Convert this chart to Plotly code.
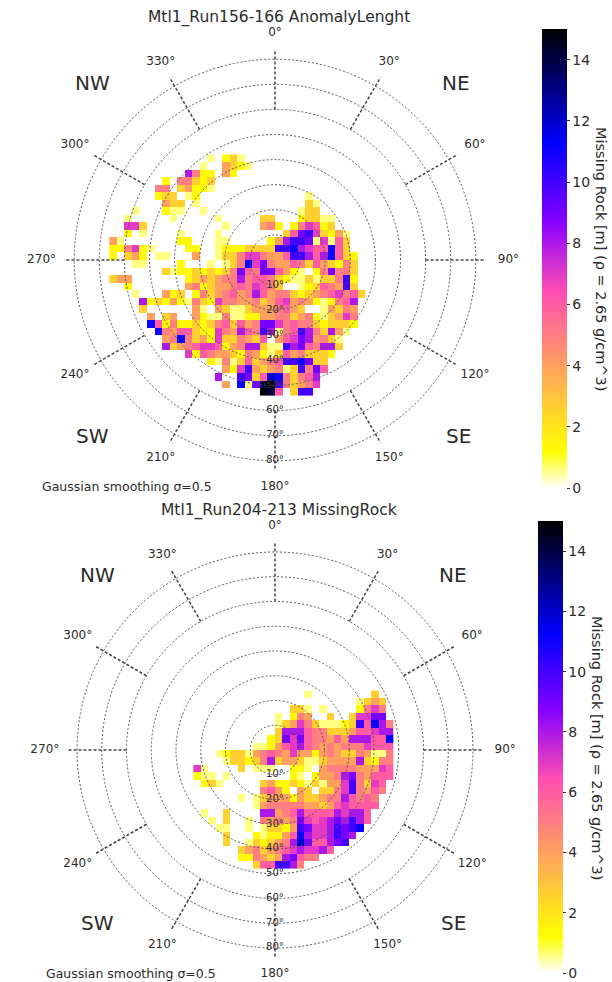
import numpy as np
import plotly.graph_objects as go

W, H = 612, 982
GRID_STEP = 3.0

# Cell values: '.' = empty, hexadecimal digit = metres of missing rock (1-3 refined in PALE)
top_rows = [
".............1.231",
"............1..4321",
"..........8522.42",
".......2.55323",
"......55.34221",
"......233.12..............1",
".......433.1..............31",
"...1...211..1............133",
"..1.....1.....1.....33...23311",
"..773..........1....452.257623",
"..2.1....1....1........369a73241",
"41.......22...11.....248aa917163",
"225721....22..12223333aab8766b63",
"2.342.11...4..1335775446aa868b632",
"...11....2...1.135b79544653643253",
".......31223232" + "35965" + "996421.2" + "59553",
"344.......234345" + "58566" + "53211" + "3133" + "5a2",
"..2.......45234" + "45657" + "653.." + "123654a3",
"...1...423.25345645864553234567563",
"....8232421" + "5327554453" + "467454212568",
"....3......" + "41.431134445643" + "..14354",
".....4.34.." + "421151122" + "4455345213475",
".....b62522323" + "5636459975" + "655323332",
"......b5466322" + "754865a815" + "6a853841",
".......45b53427" + "33543" + "6.467984531",
".......8345677" + "62458" + "8311a8965883",
"..........726544" + "32542" + "136453332",
".............215" + "13634" + "56aab933",
"...............427a43" + "4513a596",
"..............8..a93" + "6cb53568",
"...............4.b19" + "efa53457",
"....................fe6.3aa",
]
bottom_rows = [
"...............1........3",
"......................1343",
".............331.1....2575",
"...........1.254..3..37799",
"..........." + "1347531112" + "3a6b85",
"..........." + "3888655333" + "466788",
".........." + "23979655464" + "88866b",
"........" + "112467865454555" + "7666",
"..." + "123314565474424543354115",
"...." + "1332358344311344" + "4483255",
"71....3.111..221." + "4555544476",
"211.1........21.2" + "4458954666",
".231....." + "342232131" + "447a5376",
"........." + "5642.43.3357a5465",
"......1.1" + "3444243345586565",
"........" + "14555554434676666",
".1..3...." + "884568666687886",
"..1.3..1." + "545459767898a86",
"...11..1.1" + "3324a9778a9ab",
"....3...2" + "12246b8778a98",
"....3..1" + "323458c96689a",
"......" + "3453456787786",
"......" + "22543489655",
"........" + "366aa85",
]
PALE = {1: 0.6, 2: 1.4, 3: 2.6}

colorscale = [
    [0.00, "rgb(255,255,255)"], [0.08, "rgb(255,255,0)"], [0.43, "rgb(255,77,179)"],
    [0.58, "rgb(135,0,255)"], [0.75, "rgb(0,0,255)"], [1.00, "rgb(0,0,0)"],
]
circle_vals = [10, 20, 30, 40, 50, 60, 70, 80]
circle_text = ["10°", "20°", "30°", "40°", "50°", "60°", "70°", "80°"]
angle_vals = [0, 30, 60, 90, 120, 150, 180, 210, 240, 270, 300, 330]
angle_text = ["0°", "30°", "60°", "90°", "120°", "150°", "180°", "210°", "240°", "270°", "300°", "330°"]
cb_ticks = [0, 2, 4, 6, 8, 10, 12, 14]
cb_title = "Missing Rock [m] (ρ = 2.65 g/cm^3)"
note = "Gaussian smoothing σ=0.5"
titles = ["Mtl1_Run156-166 AnomalyLenght", "Mtl1_Run204-213 MissingRock"]

FONT = "DejaVu Sans"
TXT = "#2b2b2b"
RMAX = 93
SPOKE = (60, 84)
LABEL_R = [90.5, 91, 92, 93, 92, 91, 90.5, 91, 92, 93, 92, 91]


def cell(c):
    if c == ".":
        return None
    v = int(c, 16)
    return PALE.get(v, v)


def parse(rows):
    n = max(len(r) for r in rows)
    return [[cell(c) for c in r.ljust(n, ".")] for r in rows]


panels = [
    dict(rows=top_rows, cx=275, cy=260, s=2.51, col0=-22, y0=40.5, cb_x=542, cb_top=29, cb_bot=488,
         note_x=127, note_y=487, title_y=18, cbt_x=601, cbt_y=259,
         comp=[("NW", 92, 83), ("NE", 456, 83), ("SW", 93, 436), ("SE", 458, 436)]),
    dict(rows=bottom_rows, cx=275, cy=750, s=2.475, col0=-11, y0=22.5, cb_x=538, cb_top=521, cb_bot=973,
         note_x=131, note_y=973, title_y=510, cbt_x=597, cbt_y=748,
         comp=[("NW", 97, 575), ("NE", 453, 575), ("SW", 97, 923), ("SE", 453, 923)]),
]

fig = go.Figure()
layout = dict(width=W, height=H, margin=dict(l=0, r=0, t=0, b=0), paper_bgcolor="white",
              plot_bgcolor="rgba(0,0,0,0)", showlegend=False,
              font=dict(family=FONT, color=TXT), annotations=[])

for p_i, p in enumerate(panels, start=1):
    z = parse(p["rows"])
    ncol = len(z[0])
    xs = (np.arange(ncol) + p["col0"] + 0.5) * GRID_STEP
    ys = p["y0"] - np.arange(len(z)) * GRID_STEP
    R = RMAX * p["s"]
    dx = [(p["cx"] - R) / W, (p["cx"] + R) / W]
    dy = [1 - (p["cy"] + R) / H, 1 - (p["cy"] - R) / H]
    sx = "" if p_i == 1 else str(p_i)
    fig.add_trace(go.Heatmap(
        z=z, x=xs, y=ys, xaxis="x" + sx, yaxis="y" + sx, zmin=0, zmax=15, colorscale=colorscale,
        hoverongaps=False, hoverinfo="skip", xgap=0, ygap=0,
        colorbar=dict(
            x=p["cb_x"] / W, xanchor="left", xpad=0, ypad=0, thickness=25, thicknessmode="pixels",
            y=1 - p["cb_bot"] / H, yanchor="bottom", len=p["cb_bot"] - p["cb_top"], lenmode="pixels",
            outlinewidth=0, ticks="outside", ticklen=3, tickwidth=1, tickcolor="#333",
            tickvals=cb_ticks, tickfont=dict(size=14, family=FONT, color=TXT),
        ),
    ))
    axis = dict(range=[-RMAX, RMAX], visible=False, fixedrange=True)
    layout["xaxis" + sx] = dict(axis, domain=dx, anchor="y" + sx)
    layout["yaxis" + sx] = dict(axis, domain=dy, anchor="x" + sx)

    polar = "polar" + sx
    layout[polar] = dict(
        domain=dict(x=dx, y=dy), bgcolor="rgba(0,0,0,0)",
        angularaxis=dict(direction="clockwise", rotation=90, showgrid=False, showline=False,
                         ticks="", showticklabels=False, tickvals=angle_vals),
        radialaxis=dict(range=[0, RMAX], tickvals=circle_vals, showticklabels=False, ticks="",
                        showline=False, showgrid=True, gridcolor="#555555", griddash="2px,2px", gridwidth=1.2),
    )
    spoke_r, spoke_t = [], []
    for a in angle_vals:
        spoke_r += [SPOKE[0], SPOKE[1], None]
        spoke_t += [a, a, None]
    fig.add_trace(go.Scatterpolar(r=spoke_r, theta=spoke_t, subplot=polar, mode="lines",
                                  line=dict(color="#444444", width=1.5, dash="3px,2px"), hoverinfo="skip"))
    fig.add_trace(go.Scatterpolar(r=circle_vals, theta=[180] * len(circle_vals), subplot=polar, mode="text",
                                  text=circle_text, textposition="middle center",
                                  textfont=dict(size=10, family=FONT, color=TXT), hoverinfo="skip"))
    fig.add_trace(go.Scatterpolar(r=LABEL_R, theta=angle_vals, subplot=polar, mode="text",
                                  text=angle_text, textposition="middle center",
                                  textfont=dict(size=12, family=FONT, color=TXT), hoverinfo="skip"))

    def ann(text, x, y, size, angle=0):
        layout["annotations"].append(dict(text=text, x=x / W, y=1 - y / H, xref="paper", yref="paper",
                                          xanchor="center", yanchor="middle", showarrow=False, textangle=angle,
                                          font=dict(size=size, family=FONT, color=TXT)))
    ann(titles[p_i - 1], 279, p["title_y"], 15.5)
    ann(note, p["note_x"], p["note_y"], 12.5)
    ann(cb_title, p["cbt_x"], p["cbt_y"], 14.5, 90)
    for lab, x, y in p["comp"]:
        ann(lab, x, y, 20)

fig.update_layout(**layout)
fig.write_html("out.html", post_script="document.body.style.margin='0';", config={"displayModeBar": False})
